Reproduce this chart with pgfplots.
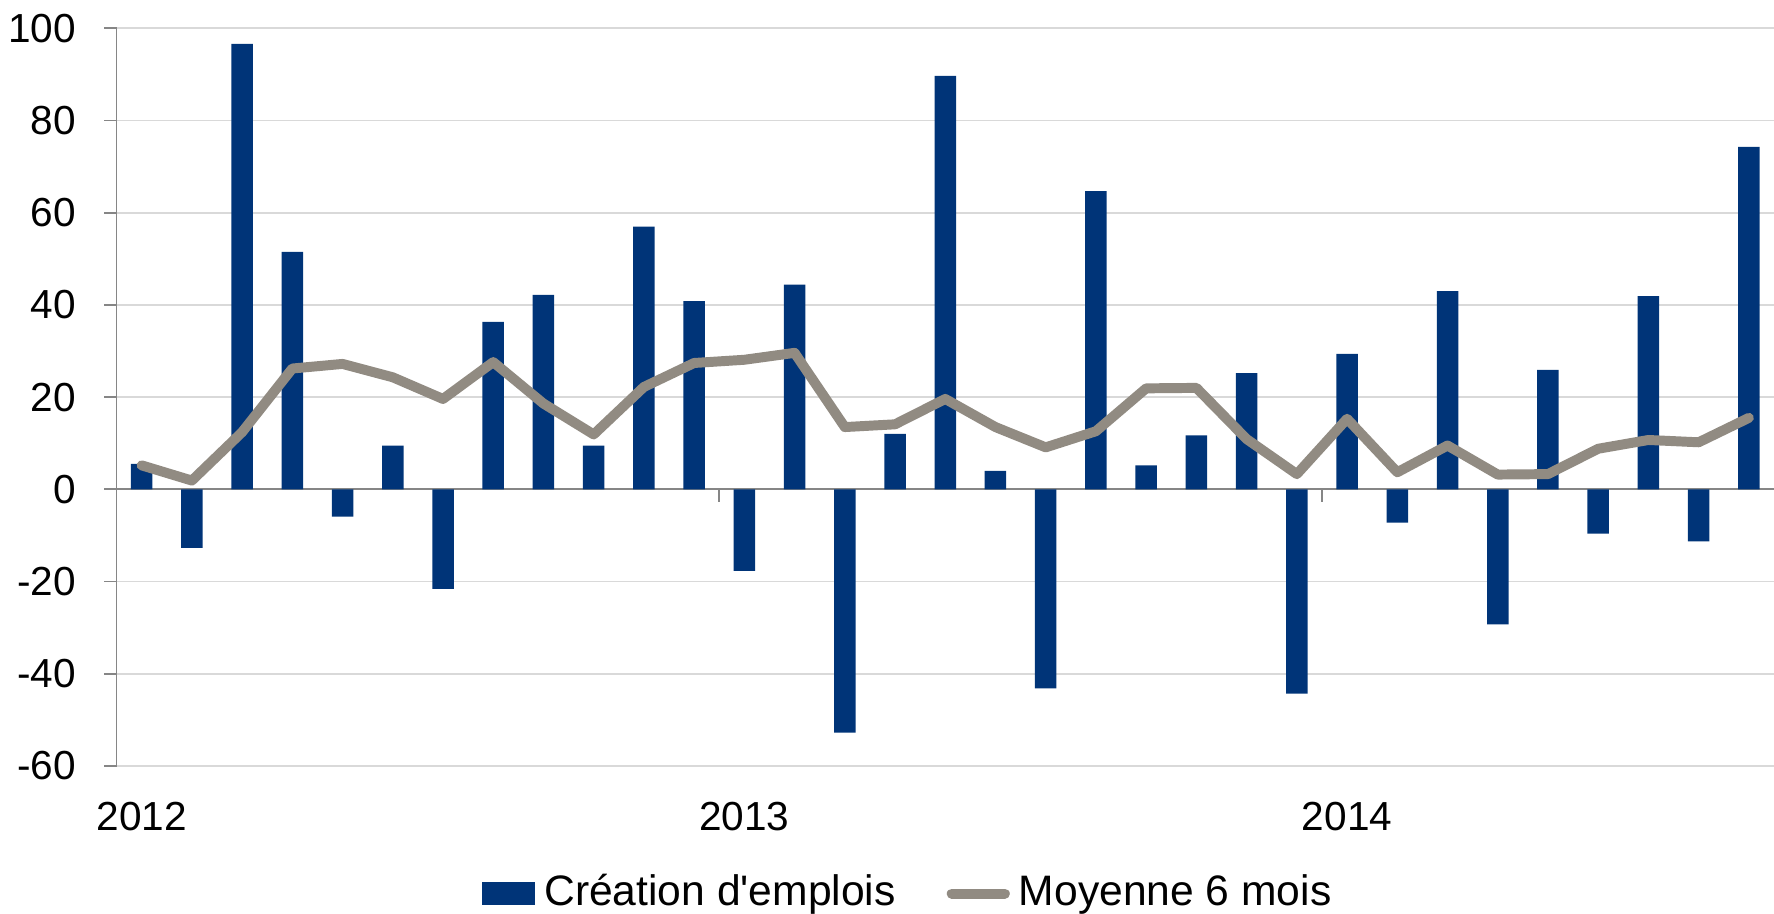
\documentclass[border=0pt]{standalone}
\usepackage{pgfplots}
\usepackage{pgfplotstable}
\pgfplotsset{compat=1.18}
\usepackage{fontspec}
\setmainfont{Liberation Sans}
\definecolor{navy}{RGB}{0,52,120}
\definecolor{taupe}{RGB}{145,139,130}
\definecolor{gridgray}{RGB}{217,217,217}
\definecolor{axgray}{RGB}{134,134,134}
\pgfplotstableread{
x bar avg
0 5.5 5.2
1 -12.7 1.9
2 96.6 12.4
3 51.5 26.2
4 -5.9 27.2
5 9.5 24.3
6 -21.6 19.6
7 36.3 27.6
8 42.2 18.6
9 9.5 11.9
10 57.0 22.2
11 40.8 27.4
12 -17.7 28.1
13 44.4 29.6
14 -52.8 13.5
15 12.0 14.1
16 89.7 19.6
17 4.0 13.5
18 -43.2 9.1
19 64.7 12.6
20 5.2 21.9
21 11.7 22.0
22 25.2 10.9
23 -44.3 3.3
24 29.4 15.3
25 -7.2 3.7
26 43.0 9.5
27 -29.3 3.2
28 25.9 3.3
29 -9.6 8.8
30 41.9 10.7
31 -11.3 10.2
32 74.3 15.5
}\datatable
\begin{document}
\begin{tikzpicture}
\begin{axis}[
  name=ax,
  scale only axis,
  width=366.25bp, height=163bp,
  xmin=-0.5, xmax=32.5,
  ymin=-60, ymax=100,
  axis y line*=left,
  axis x line*=bottom,
  x axis line style={draw=none},
  y axis line style={draw=axgray, line width=0.4bp},
  ytick={-60,-40,...,100},
  yticklabels={-60,-40,-20,0,20,40,60,80,100},
  xtick={0,12,24},
  xticklabels={2012,2013,2014},
  xtick style={draw=none},
  ytick style={draw=axgray, line width=0.4bp},
  tick align=outside,
  major tick length=2.75bp,
  ymajorgrids,
  grid style={draw=gridgray, line width=0.4bp},
  extra y ticks={0},
  extra y tick labels={},
  extra y tick style={grid style={draw=axgray, line width=0.4bp}, tick style={draw=none}},
  tick label style={font=\fontsize{9}{11}\selectfont},
  xticklabel style={yshift=-1.75bp},
  yticklabel style={xshift=-2.75bp},
  legend style={draw=none, fill=none, at={(0.4795,-0.173)}, anchor=center,
    legend columns=2, font=\fontsize{9.45}{11}\selectfont,
    /tikz/every even column/.append style={column sep=9.25bp}},
  clip=false,
]
\addplot[ybar, bar width=4.75bp, fill=navy, draw=none,
  legend image code/.code={\fill[navy] (0.5bp,-2.5bp) rectangle (12.25bp,2.5bp);}]
  table[x=x, y=bar] {\datatable};
\addlegendentry{Création d\textquotesingle emplois}
\addplot[taupe, line width=2.2bp, line join=round, line cap=round, mark=none,
  legend image code/.code={\draw[taupe, line width=2.2bp, line cap=round] (0.5bp,0bp) -- (12.25bp,0bp);}]
  table[x=x, y=avg] {\datatable};
\addlegendentry{Moyenne 6 mois}
\draw[axgray, line width=0.4bp] (axis cs:11.5,0) -- ++(0pt,-2.75bp);
\draw[axgray, line width=0.4bp] (axis cs:23.5,0) -- ++(0pt,-2.75bp);
\end{axis}
\pgfresetboundingbox
\path[use as bounding box] ([xshift=-25.75bp,yshift=-32.5bp]ax.south west) rectangle ([yshift=6.25bp]ax.north east);
\end{tikzpicture}
\end{document}
